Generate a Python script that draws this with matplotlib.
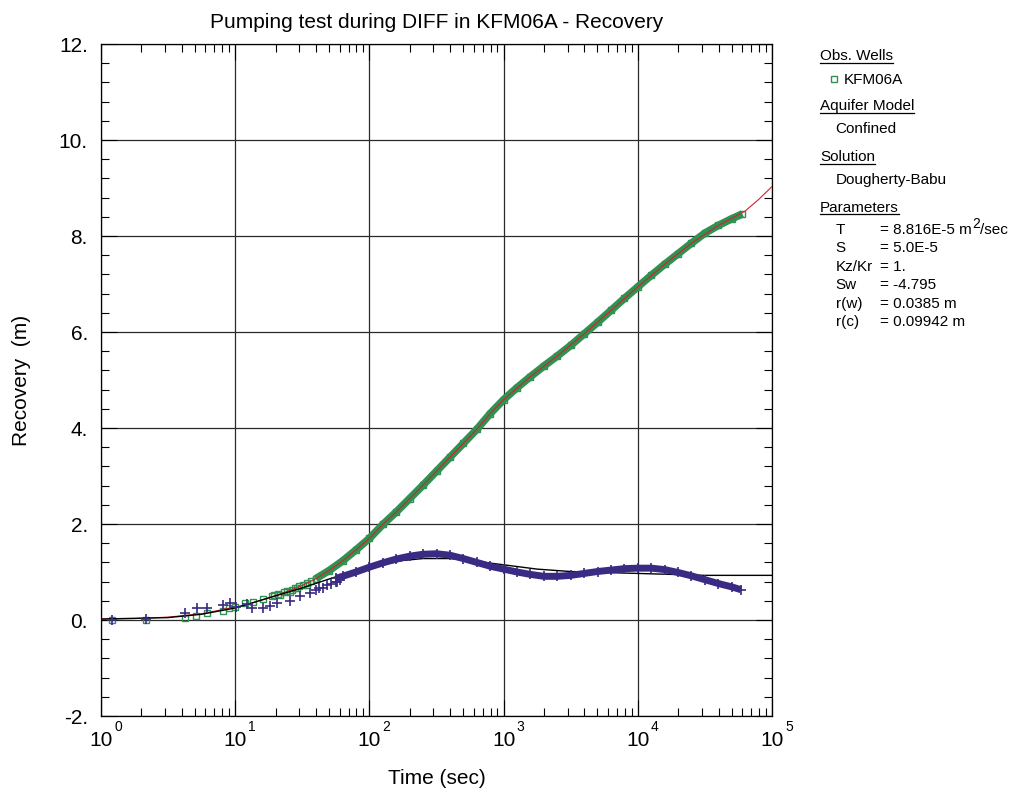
import numpy as np
import matplotlib
matplotlib.use("Agg")
import matplotlib.pyplot as plt
from matplotlib.lines import Line2D
from matplotlib.ticker import LogLocator, MultipleLocator, NullFormatter

plt.rcParams['font.family'] = ['Liberation Sans', 'DejaVu Sans']
plt.rcParams['mathtext.fontset'] = 'custom'
plt.rcParams['mathtext.rm'] = 'Liberation Sans'
plt.rcParams['mathtext.it'] = 'Liberation Sans:italic'

# ---------------- data ----------------
# observed recovery, sparse early part (time s, recovery m)
obs_early_t = [1.2, 2.15, 4.2, 5.1, 6.2, 8.1, 9.0, 10.0, 11.8, 13.6, 16.2, 18.7, 19.5, 21.0,
               21.6, 23.0, 24.5, 25.6, 26.5, 28.0, 28.8, 30.0, 32.0, 34.0, 34.5, 37.0, 40.0]
obs_early_s = [0.0, 0.0, 0.035, 0.08, 0.15, 0.19, 0.24, 0.28, 0.35, 0.38, 0.43, 0.49, 0.52, 0.55,
               0.52, 0.58, 0.61, 0.59, 0.63, 0.67, 0.66, 0.70, 0.73, 0.73, 0.77, 0.81, 0.86]
# observed recovery, dense part (log10 time, recovery m)
obs_logt = [1.60, 1.70, 1.80, 1.90, 2.00, 2.10, 2.20, 2.30, 2.40, 2.50, 2.60, 2.70, 2.80, 2.90,
            3.00, 3.10, 3.20, 3.30, 3.40, 3.50, 3.60, 3.70, 3.80, 3.90, 4.00, 4.10, 4.20, 4.30,
            4.40, 4.50, 4.60, 4.70, 4.78]
obs_s = [0.86, 1.03, 1.23, 1.46, 1.70, 1.99, 2.25, 2.53, 2.81, 3.10, 3.39, 3.68, 3.97, 4.30,
         4.59, 4.84, 5.07, 5.29, 5.50, 5.72, 5.96, 6.20, 6.45, 6.70, 6.94, 7.18, 7.41, 7.63,
         7.85, 8.06, 8.22, 8.36, 8.46]

# derivative data, sparse early part
der_early_t = [1.2, 2.16, 4.2, 5.17, 6.2, 8.1, 9.2, 10.2, 12.2, 13.3, 16.2, 18.2, 20.4, 25.6,
               30.5, 36.0, 40.0, 42.0, 45.0, 48.0, 52.0, 56.0, 57.0, 60.0]
der_early_s = [0.01, 0.02, 0.15, 0.26, 0.26, 0.31, 0.35, 0.28, 0.33, 0.26, 0.26, 0.29, 0.35, 0.40,
               0.49, 0.56, 0.62, 0.66, 0.66, 0.72, 0.76, 0.80, 0.80, 0.84]
# derivative data, dense part
der_logt = [1.75, 1.80, 1.90, 2.00, 2.10, 2.20, 2.30, 2.40, 2.50, 2.60, 2.70, 2.80, 2.90, 3.00,
            3.10, 3.20, 3.30, 3.40, 3.50, 3.60, 3.70, 3.80, 3.90, 4.00, 4.10, 4.20, 4.30,
            4.40, 4.50, 4.60, 4.70, 4.77]
der_s = [0.87, 0.91, 1.00, 1.10, 1.19, 1.27, 1.33, 1.37, 1.38, 1.35, 1.28, 1.20, 1.12, 1.06,
         1.00, 0.95, 0.91, 0.91, 0.93, 0.97, 1.01, 1.04, 1.07, 1.08, 1.08, 1.05, 0.99,
         0.92, 0.84, 0.76, 0.69, 0.63]

# Dougherty-Babu model curve (red) and its derivative (black)
fit_logt = [0.0, 0.25, 0.5, 0.75, 1.0, 1.1, 1.2, 1.3, 1.4, 1.5, 1.6, 1.7, 1.8, 1.9, 2.0, 2.1, 2.2,
            2.3, 2.4, 2.5, 2.6, 2.7, 2.8, 2.9, 3.0, 3.2, 3.4, 3.6, 3.8, 4.0, 4.2, 4.4, 4.6,
            4.8, 4.9, 5.0]
fit_s = [0.02, 0.03, 0.06, 0.13, 0.27, 0.33, 0.42, 0.51, 0.61, 0.72, 0.86, 1.03, 1.23, 1.46,
         1.70, 1.99, 2.25, 2.53, 2.81, 3.10, 3.39, 3.68, 3.97, 4.30, 4.59, 5.07, 5.50, 5.96,
         6.45, 6.94, 7.41, 7.85, 8.22, 8.52, 8.76, 9.03]
dfit_logt = [0.0, 0.5, 0.75, 1.0, 1.25, 1.5, 1.75, 2.0, 2.25, 2.4, 2.6, 2.75, 3.0, 3.25, 3.5,
             3.75, 4.0, 4.25, 4.5, 5.0]
dfit_s = [0.02, 0.05, 0.12, 0.25, 0.46, 0.67, 0.90, 1.09, 1.24, 1.28, 1.28, 1.24, 1.15, 1.06,
          1.01, 0.99, 0.97, 0.95, 0.93, 0.93]

yticks = [-2, 0, 2, 4, 6, 8, 10, 12]
ytick_labels = ['-2.', '0.', '2.', '4.', '6.', '8.', '10.', '12.']
xticks = [1, 10, 100, 1000, 10000, 100000]
xtick_exps = ['0', '1', '2', '3', '4', '5']

title = "Pumping test during DIFF in KFM06A - Recovery"
well_name = "KFM06A"
param_names = ["T", "S", "Kz/Kr", "Sw", "r(w)", "r(c)"]
param_values = ["= 8.816E-5 m", "= 5.0E-5", "= 1.", "= -4.795", "= 0.0385 m", "= 0.09942 m"]

GREEN = '#2f9152'
BLUE = '#3a2a84'
RED = '#d2232e'

# ---------------- figure ----------------
W, H = 1019, 792
fig = plt.figure(figsize=(W / 100, H / 100), dpi=100)
ax = fig.add_axes([101 / W, 1 - 716 / H, 671 / W, 672 / H])

def fx(x):
    return x / W

def fy(y):
    return 1 - y / H

obs_t = 10 ** np.array(obs_logt)
der_t = 10 ** np.array(der_logt)
fit_t = 10 ** np.array(fit_logt)
dfit_t = 10 ** np.array(dfit_logt)

# observed (green squares)
ax.plot(obs_t, obs_s, '-', color=GREEN, lw=5.5, solid_capstyle='butt', zorder=3)
ax.plot(obs_early_t, obs_early_s, 's', mfc='none', mec=GREEN, ms=4.5, mew=1.0, zorder=3)
ax.plot(obs_t, obs_s, 's', mfc='none', mec=GREEN, ms=4.5, mew=1.0, zorder=3)
# model
ax.plot(fit_t, fit_s, '-', color=RED, lw=0.8, zorder=4)
ax.plot(dfit_t, dfit_s, '-', color='black', lw=1.0, zorder=4)
# derivative (blue pluses)
ax.plot(der_t, der_s, '-', color=BLUE, lw=5.0, solid_capstyle='butt', zorder=5)
ax.plot(der_early_t, der_early_s, '+', color=BLUE, ms=7, mew=1.2, zorder=5)
ax.plot(der_t, der_s, '+', color=BLUE, ms=7, mew=1.2, zorder=5)

ax.set_xscale('log')
ax.set_xlim(1, 1e5)
ax.set_ylim(-2, 12)

ax.set_yticks(yticks, labels=ytick_labels)
ax.yaxis.set_minor_locator(MultipleLocator(0.4))
ax.set_xticks(xticks, labels=['10'] * len(xticks))
ax.xaxis.set_minor_locator(LogLocator(base=10, subs=np.arange(2, 10)))
ax.xaxis.set_minor_formatter(NullFormatter())

ax.tick_params(which='both', direction='in', top=True, right=True, width=0.8, colors='black')
ax.tick_params(which='major', length=11.5, labelsize=15)
ax.tick_params(which='minor', length=6)
ax.tick_params(axis='x', which='major', pad=10.5)
ax.tick_params(axis='y', which='major', pad=9.4)

for t, e in zip(xticks, xtick_exps):
    ax.annotate(e, xy=(t, 0), xycoords=('data', 'axes fraction'), xytext=(12.2, -7.9),
                textcoords='offset points', ha='center', va='center', fontsize=10,
                annotation_clip=False)

ax.grid(True, which='major', color='#2a2a2a', lw=0.9)
ax.set_axisbelow(True)
for sp in ax.spines.values():
    sp.set_linewidth(0.9)

ax.set_xlabel("Time (sec)", fontsize=15)
ax.set_ylabel("Recovery  (m)", fontsize=15)
ax.xaxis.set_label_coords(0.5, (716 - 778) / 672)
ax.xaxis.label.set_va('center')
ax.yaxis.set_label_coords((22 - 101) / 671, 0.5)
ax.yaxis.label.set_va('center')
ax.yaxis.label.set_ha('center')

fig.text(fx(436.5), fy(27.5), title, ha='center', va='baseline', fontsize=15)

# ---------------- right-hand info panel ----------------
FS = 11
headings = [("Obs. Wells", 60.0, 62.5), ("Aquifer Model", 110.0, 113.3),
            ("Solution", 161.0, 163.5), ("Parameters", 211.7, 214.2)]
head_texts = []
for txt, yb, yu in headings:
    t = fig.text(fx(820), fy(yb), txt, ha='left', va='baseline', fontsize=FS)
    head_texts.append((t, yu))

fig.add_artist(Line2D([fx(834)], [fy(78.5)], marker='s', mfc='none', mec=GREEN, ms=4, mew=1.0,
                      transform=fig.transFigure))
fig.text(fx(844), fy(83.5), well_name, ha='left', va='baseline', fontsize=FS)
fig.text(fx(835.7), fy(133.3), "Confined", ha='left', va='baseline', fontsize=FS)
fig.text(fx(835.7), fy(184.3), "Dougherty-Babu", ha='left', va='baseline', fontsize=FS)

param_base = [234.0, 252.5, 271.0, 289.5, 308.0, 326.5]
param_texts = []
for name, val, yb in zip(param_names, param_values, param_base):
    fig.text(fx(835.7), fy(yb), name, ha='left', va='baseline', fontsize=FS)
    param_texts.append(fig.text(fx(880), fy(yb), val, ha='left', va='baseline', fontsize=FS))

fig.canvas.draw()
renderer = fig.canvas.get_renderer()
for t, yu in head_texts:
    bb = t.get_window_extent(renderer)
    fig.add_artist(Line2D([bb.x0 / W, bb.x1 / W], [fy(yu), fy(yu)], color='black', lw=0.9,
                          transform=fig.transFigure))

# "m2/sec" with a large raised superscript, as in the reference
bbT = param_texts[0].get_window_extent(renderer)
sup = fig.text(bbT.x1 / W + 0.5 / W, fy(param_base[0] + 0) + 6.5 / H, "2", ha='left',
               va='baseline', fontsize=10)
fig.canvas.draw()
bbS = sup.get_window_extent(renderer)
fig.text(bbS.x1 / W, fy(param_base[0]), "/sec", ha='left', va='baseline', fontsize=FS)

fig.savefig("out.png", dpi=100)
